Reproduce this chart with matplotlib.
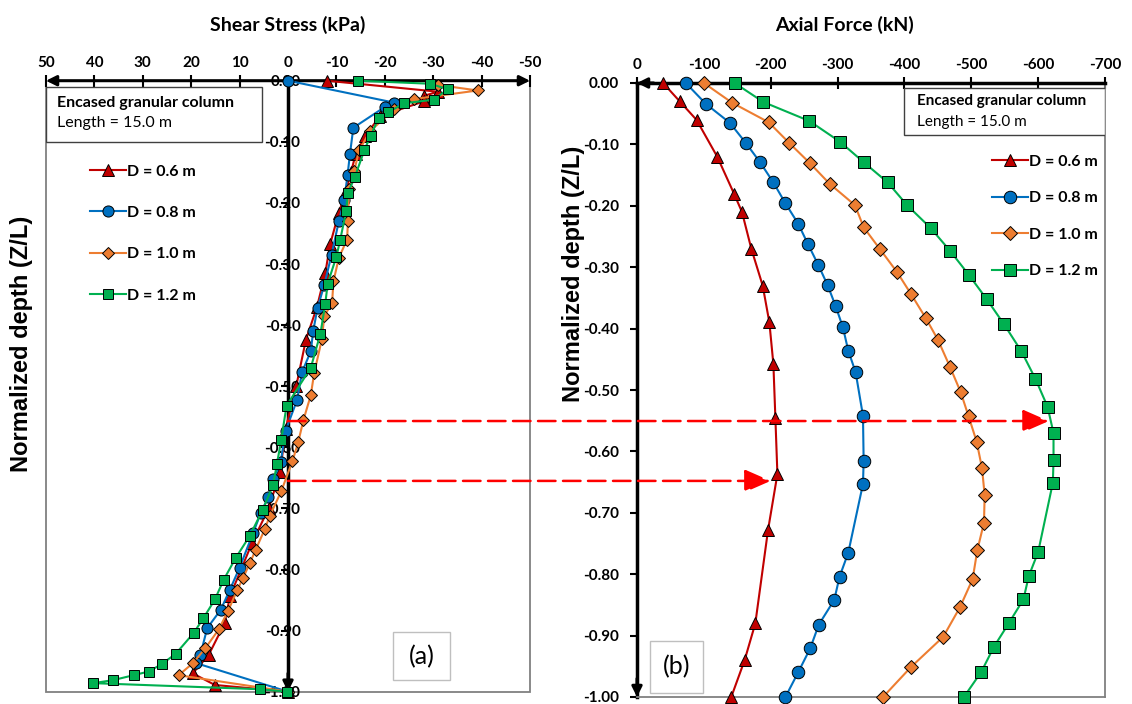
import numpy as np
import matplotlib.pyplot as plt
from matplotlib import transforms
from matplotlib.patches import Rectangle, ConnectionPatch
from matplotlib.lines import Line2D

plt.rcParams['font.family'] = ['Lato', 'DejaVu Sans']
plt.rcParams['font.weight'] = 'bold'
plt.rcParams['axes.labelweight'] = 'bold'

############ data ############
labels = ['D = 0.6 m', 'D = 0.8 m', 'D = 1.0 m', 'D = 1.2 m']

# (a) shear stress (kPa) vs normalized depth
tau_depth_06 = [0.0, -0.018, -0.025, -0.034, -0.058, -0.09, -0.12, -0.15, -0.18, -0.216, -0.268, -0.315,
                -0.37, -0.424, -0.50, -0.57, -0.64, -0.70, -0.756, -0.844, -0.888, -0.94, -0.97, -0.989, -1.0]
tau_06 = [-8, -31, -28, -28, -19, -16, -14, -13, -12, -10.5, -8.7, -7.7,
          -6.0, -3.7, -1.7, 0.5, 1.6, 4.0, 7.4, 12.0, 13.1, 16.4, 19.7, 15.1, 0]

tau_depth_08 = [0.0, -0.036, -0.043, -0.077, -0.12, -0.155, -0.196, -0.23, -0.285, -0.334, -0.372, -0.41,
                -0.443, -0.477, -0.522, -0.573, -0.624, -0.652, -0.682, -0.707, -0.74, -0.797, -0.833,
                -0.866, -0.896, -0.94, -0.953, -1.0]
tau_08 = [0, -22, -20, -13.5, -12.8, -12.3, -11.6, -10.5, -9.0, -7.5, -6.1, -5.2,
          -4.7, -2.9, -1.9, 0.5, 1.5, 3.0, 4.1, 5.6, 7.2, 10.0, 12.0,
          13.9, 16.7, 18.1, 19.1, 0]

tau_depth_10 = [-0.007, -0.016, -0.03, -0.047, -0.082, -0.114, -0.147, -0.177, -0.229, -0.26, -0.29, -0.328,
                -0.364, -0.385, -0.423, -0.479, -0.515, -0.555, -0.592, -0.623, -0.672, -0.713, -0.734,
                -0.768, -0.79, -0.814, -0.834, -0.868, -0.898, -0.929, -0.953, -0.973, -1.0]
tau_10 = [-31, -39.2, -26, -22, -17, -14.7, -13.7, -12.6, -12.4, -12.2, -10.5, -9.4,
          -9.1, -7.5, -7.0, -5.4, -4.7, -3.2, -2.1, -0.9, 1.4, 3.8, 4.8,
          6.7, 7.9, 9.3, 10.5, 12.4, 14.3, 17.1, 19.6, 22.6, 0]

tau_depth_12 = [0.0, -0.005, -0.014, -0.031, -0.037, -0.052, -0.061, -0.09, -0.113, -0.158, -0.183, -0.214,
                -0.26, -0.288, -0.332, -0.365, -0.414, -0.47, -0.532, -0.588, -0.628, -0.662, -0.702,
                -0.745, -0.781, -0.817, -0.849, -0.88, -0.904, -0.938, -0.955, -0.967, -0.973, -0.981,
                -0.986, -0.996, -1.0]
tau_12 = [-14.4, -29.4, -33.0, -30.1, -24.0, -20.6, -18.7, -17.1, -15.8, -13.8, -12.4, -12.0,
          -10.8, -10.0, -8.2, -7.7, -6.7, -4.7, 0.3, 1.4, 2.3, 3.1, 5.2,
          7.9, 10.8, 13.3, 15.1, 17.5, 19.5, 23.2, 26.1, 28.8, 31.9, 36.1,
          40.2, 5.7, 0.3]

# (b) axial force (kN) vs normalized depth
n_depth_06 = [0, -0.03, -0.06, -0.12, -0.18, -0.21, -0.27, -0.33, -0.39, -0.458, -0.546, -0.637,
              -0.728, -0.88, -0.94, -1.0]
force_06 = [-39, -64, -89, -120, -145, -157, -171, -188, -198, -204, -207, -210,
            -196, -177, -161, -141]

n_depth_08 = [0, -0.034, -0.065, -0.098, -0.129, -0.162, -0.196, -0.229, -0.263, -0.296, -0.329, -0.363,
              -0.398, -0.436, -0.471, -0.542, -0.616, -0.653, -0.765, -0.804, -0.842, -0.882, -0.921,
              -0.96, -1.0]
force_08 = [-73, -103, -139, -163, -184, -204, -222, -241, -256, -271, -285, -297,
            -308, -316, -327, -338, -339, -338, -316, -303, -295, -272, -259,
            -241, -222]

n_depth_10 = [0, -0.032, -0.064, -0.098, -0.131, -0.164, -0.199, -0.235, -0.27, -0.308, -0.344, -0.383,
              -0.418, -0.462, -0.503, -0.543, -0.584, -0.627, -0.671, -0.716, -0.761, -0.808, -0.854,
              -0.902, -0.951, -1.0]
force_10 = [-100, -142, -197, -228, -259, -288, -326, -339, -363, -389, -410, -432,
            -450, -468, -484, -496, -508, -516, -520, -519, -509, -502, -483,
            -458, -410, -368]

n_depth_12 = [0, -0.031, -0.062, -0.096, -0.129, -0.162, -0.199, -0.236, -0.273, -0.312, -0.352, -0.393,
              -0.437, -0.482, -0.527, -0.57, -0.614, -0.651, -0.764, -0.803, -0.841, -0.88, -0.918,
              -0.959, -1.0]
force_12 = [-146, -189, -258, -304, -339, -375, -404, -439, -468, -496, -523, -549,
            -575, -596, -614, -623, -623, -622, -600, -586, -578, -556, -534,
            -515, -489]

shear_ticks = [50, 40, 30, 20, 10, 0, -10, -20, -30, -40, -50]
force_ticks = [0, -100, -200, -300, -400, -500, -600, -700]
depth_ticks = [0.0, -0.1, -0.2, -0.3, -0.4, -0.5, -0.6, -0.7, -0.8, -0.9, -1.0]

# depths where the red arrows point (left depth, right tip force)
arrow_depths = [-0.557, -0.655]
arrow_tips = [-616, -200]
###################################################

colors = ['#C00000', '#0070C0', '#ED7D31', '#00B050']
markers = ['^', 'o', 'D', 's']
msizes = [8, 8, 6, 7]
gray = '#808080'

fig = plt.figure(figsize=(11.32, 7.04), dpi=100)
ax1 = fig.add_axes([46/1132, 1-691.7/704, 484/1132, 611/704])
ax2 = fig.add_axes([637/1132, 1-697/704, 468/1132, 614/704])

depth_fmt = ['%.2f' % d if d != 0 else '0.00' for d in depth_ticks]

#############(a) shear stress###############
tau_sets = [(tau_06, tau_depth_06), (tau_08, tau_depth_08), (tau_10, tau_depth_10), (tau_12, tau_depth_12)]
for (x, y), c, m, ms in zip(tau_sets, colors, markers, msizes):
    ax1.plot(x, y, color=c, lw=1.5, marker=m, ms=ms, mfc=c, mec='black', mew=0.7, zorder=3, clip_on=False)

ax1.set_xlim(50, -50)
ax1.set_ylim(-1, 0)
ax1.xaxis.tick_top()
ax1.xaxis.set_label_position('top')
ax1.set_xticks(shear_ticks)
ax1.set_xticklabels([str(v) for v in shear_ticks])
ax1.set_yticks(depth_ticks)
ax1.set_yticklabels(depth_fmt)
ax1.tick_params(axis='x', direction='inout', length=8, width=1.5, pad=4, labelsize=11)
ax1.tick_params(axis='y', direction='out', length=5, width=1.5, pad=-14, labelsize=11)
for lbl in ax1.get_yticklabels() + ax1.get_xticklabels():
    lbl.set_fontweight('bold')
for lbl in ax1.get_yticklabels():
    lbl.set_horizontalalignment('left')
ax1.set_xlabel('Shear Stress (kPa)', fontsize=14)
ax1.xaxis.set_label_coords(0.5, 1.082)
ax1.set_ylabel('Normalized depth (Z/L)', fontsize=17, family='Liberation Sans')
ax1.yaxis.set_label_coords(-0.027, 0.569)

#the frame
ax1.spines['left'].set_position(('data', 0))
ax1.spines['left'].set_linewidth(2.5)
for s in ['right', 'bottom', 'top']:
    ax1.spines[s].set_visible(False)
ax1.add_patch(Rectangle((0, 0), 1, 1, transform=ax1.transAxes, fill=False, ec=gray, lw=1.3, zorder=0.5, clip_on=False))
ax1.annotate('', xy=(-50, 0), xytext=(50, 0),
             arrowprops=dict(arrowstyle='<|-|>,head_length=0.6,head_width=0.3', color='black', lw=2.2,
                             shrinkA=0, shrinkB=0), annotation_clip=False, zorder=2.6)
ax1.annotate('', xy=(0, -1), xytext=(0, -0.97),
             arrowprops=dict(arrowstyle='-|>,head_length=0.6,head_width=0.3', color='black', lw=2.2,
                             shrinkA=0, shrinkB=0), annotation_clip=False, zorder=2.6)

#text box and legend
ax1.add_patch(Rectangle((0, 0.9), 0.446, 0.09, transform=ax1.transAxes, fill=True, fc='white', ec='#404040', lw=1.0, zorder=4))
ax1.text(0.0227, 0.963, 'Encased granular column', transform=ax1.transAxes, fontsize=11.5, va='center', zorder=5)
ax1.text(0.0227, 0.93, 'Length = 15.0 m', transform=ax1.transAxes, fontsize=11.5, fontweight='normal', va='center', zorder=5)
ax1.add_patch(Rectangle((0.717, 0.019), 0.118, 0.079, transform=ax1.transAxes, fill=True, fc='white', ec='#BFBFBF', lw=1.0, zorder=4))
ax1.text(0.776, 0.058, '(a)', transform=ax1.transAxes, fontsize=18, fontweight='normal', ha='center', va='center', zorder=5)

handles = [Line2D([], [], color=c, lw=1.5, marker=m, ms=ms, mfc=c, mec='black', mew=0.7)
           for c, m, ms in zip(colors, markers, msizes)]
ax1.legend(handles, labels, loc='upper left', bbox_to_anchor=(76/1132, 1-150/704), bbox_transform=fig.transFigure,
           frameon=False, labelspacing=1.7, handlelength=2.2, handletextpad=0.1, fontsize=11.5)

#############(b) axial force###############
force_sets = [(force_06, n_depth_06), (force_08, n_depth_08), (force_10, n_depth_10), (force_12, n_depth_12)]
for (x, y), c, m, ms in zip(force_sets, colors, markers, msizes):
    ax2.plot(x, y, color=c, lw=1.5, marker=m, ms=ms + 1, mfc=c, mec='black', mew=0.7, zorder=3, clip_on=False)

ax2.set_xlim(0, -700)
ax2.set_ylim(-1, 0)
ax2.xaxis.tick_top()
ax2.xaxis.set_label_position('top')
ax2.set_xticks(force_ticks)
ax2.set_xticklabels([str(v) for v in force_ticks])
ax2.set_yticks(depth_ticks)
ax2.set_yticklabels(depth_fmt)
ax2.tick_params(axis='x', direction='inout', length=8, width=1.5, pad=4, labelsize=11)
ax2.tick_params(axis='y', direction='out', length=5, width=1.5, pad=8, labelsize=11)
for lbl in ax2.get_yticklabels() + ax2.get_xticklabels():
    lbl.set_fontweight('bold')
ax2.set_xlabel('Axial Force (kN)', fontsize=14)
ax2.xaxis.set_label_coords(0.444, 1.085)
ax2.set_ylabel('Normalized depth (Z/L)', fontsize=17, family='Liberation Sans')
ax2.yaxis.set_label_coords(-0.111, 0.689)

ax2.spines['left'].set_linewidth(2.5)
ax2.spines['top'].set_linewidth(2.5)
for s in ['right', 'bottom']:
    ax2.spines[s].set_color(gray)
    ax2.spines[s].set_linewidth(1.3)
ax2.annotate('', xy=(0, 0), xytext=(-25, 0),
             arrowprops=dict(arrowstyle='-|>,head_length=0.6,head_width=0.3', color='black', lw=2.2,
                             shrinkA=0, shrinkB=0), annotation_clip=False)
ax2.annotate('', xy=(0, -1), xytext=(0, -0.97),
             arrowprops=dict(arrowstyle='-|>,head_length=0.6,head_width=0.3', color='black', lw=2.2,
                             shrinkA=0, shrinkB=0), annotation_clip=False)

ax2.add_patch(Rectangle((0.5705, 0.915), 0.4295, 0.077, transform=ax2.transAxes, fill=True, fc='white', ec='#404040', lw=1.0, zorder=4))
ax2.text(0.598, 0.971, 'Encased granular column', transform=ax2.transAxes, fontsize=11, va='center', zorder=5)
ax2.text(0.598, 0.936, 'Length = 15.0 m', transform=ax2.transAxes, fontsize=11, fontweight='normal', va='center', zorder=5)
ax2.add_patch(Rectangle((0.028, 0.0065), 0.113, 0.085, transform=ax2.transAxes, fill=True, fc='white', ec='#BFBFBF', lw=1.0, zorder=4))
ax2.text(0.084, 0.049, '(b)', transform=ax2.transAxes, fontsize=18, fontweight='normal', ha='center', va='center', zorder=5)

handles2 = [Line2D([], [], color=c, lw=1.5, marker=m, ms=ms + 1, mfc=c, mec='black', mew=0.7)
            for c, m, ms in zip(colors, markers, msizes)]
ax2.legend(handles2, labels, loc='upper left', bbox_to_anchor=(978/1132, 1-140/704), bbox_transform=fig.transFigure,
           frameon=False, labelspacing=1.4, handlelength=2.2, handletextpad=0.1, fontsize=11.5)

#############red dashed arrows###############
mixed = transforms.blended_transform_factory(ax2.transData, ax1.transData)
for d, tip in zip(arrow_depths, arrow_tips):
    con = ConnectionPatch(xyA=(0, d), coordsA=ax1.transData, xyB=(tip, d), coordsB=mixed,
                          arrowstyle='-|>,head_length=0.8,head_width=0.35', mutation_scale=20,
                          color='red', lw=1.8, linestyle=(0, (7, 3)), shrinkA=0, shrinkB=0, zorder=6)
    fig.add_artist(con)

fig.savefig('out.png', dpi=100)
